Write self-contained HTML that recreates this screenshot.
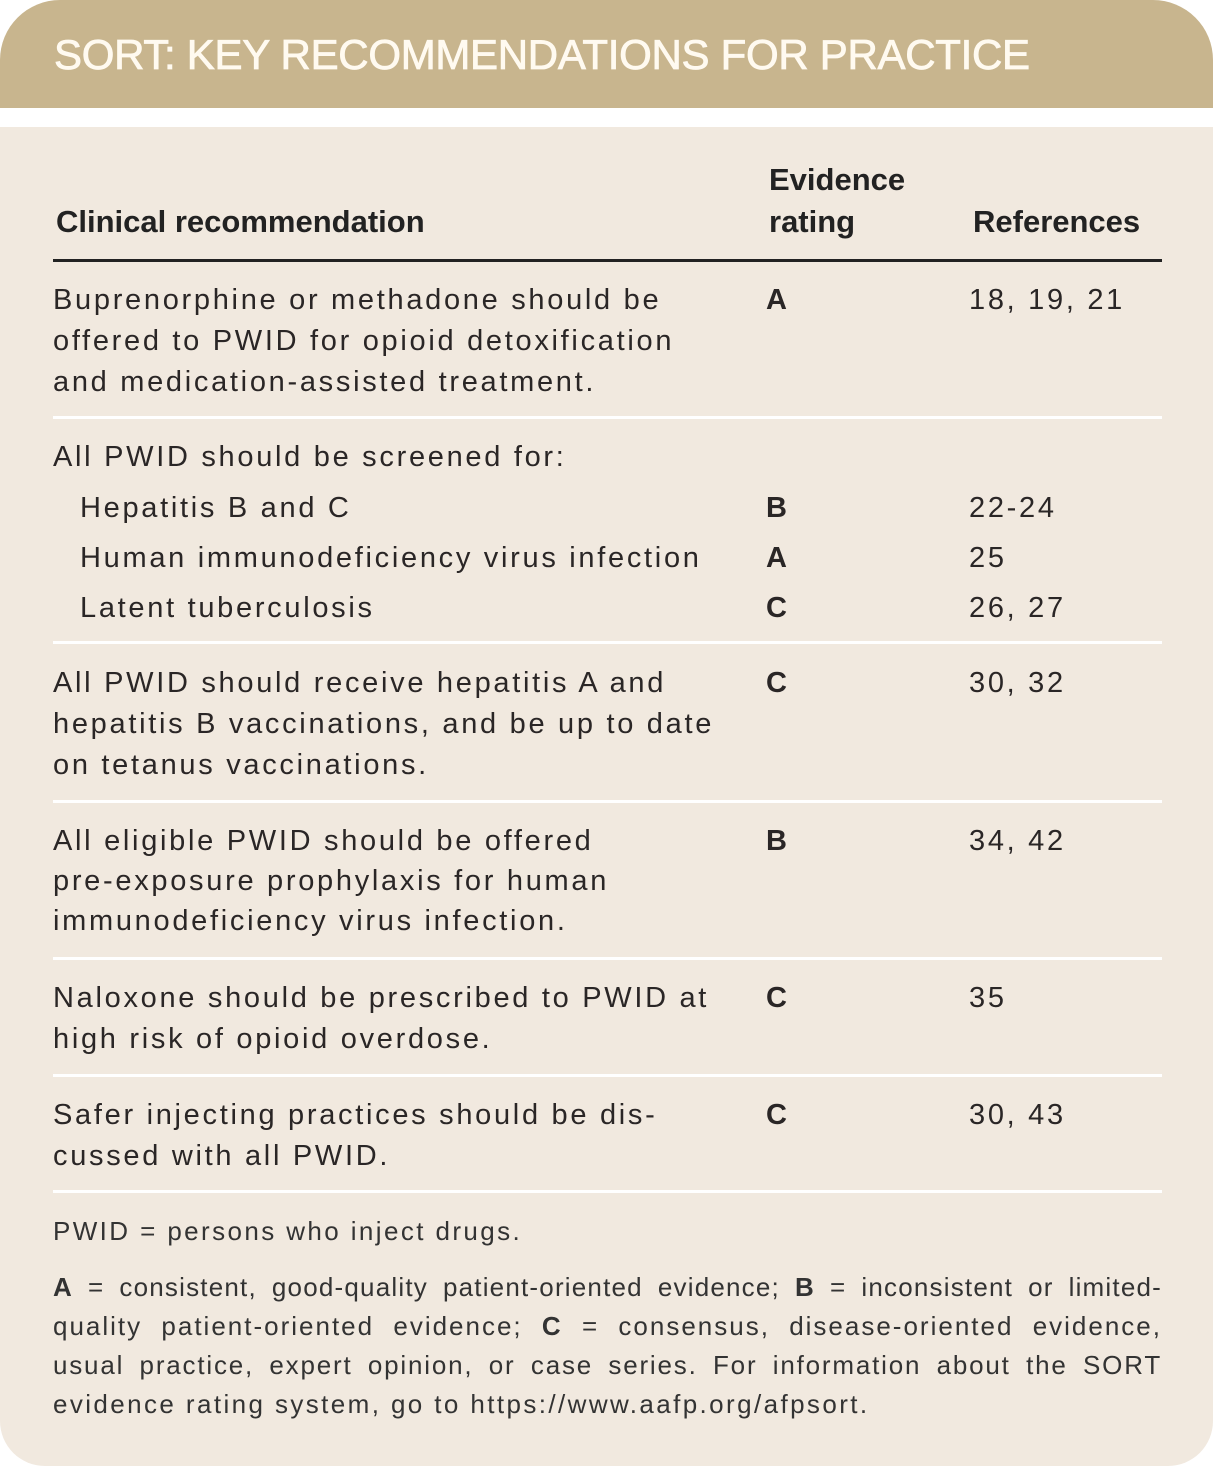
<!DOCTYPE html>
<html><head><meta charset="utf-8"><style>
html,body{margin:0;padding:0;background:#fff;}
body{width:1215px;height:1468px;position:relative;overflow:hidden;font-family:"Liberation Sans",sans-serif;color:#2a2626;}
.hd{position:absolute;left:0;top:0;width:1213px;height:108px;background:#c8b58e;border-top-left-radius:60px;border-top-right-radius:60px;}
.ht{position:absolute;left:54px;top:31px;font-size:42px;color:#fffaf0;letter-spacing:-0.3px;white-space:nowrap;-webkit-text-stroke:0.8px #fffaf0;}
.bd{position:absolute;left:0;top:127px;width:1213px;height:1339px;background:#f1e9df;border-bottom-left-radius:45px;border-bottom-right-radius:45px;}
.t{position:absolute;white-space:nowrap;font-size:29px;letter-spacing:2.7px;line-height:41px;}
.b{font-weight:bold;}
.h{position:absolute;white-space:nowrap;font-family:"Liberation Sans Narrow","Liberation Sans",sans-serif;font-weight:bold;font-size:31px;line-height:42px;color:#222;}
.sep{position:absolute;left:53px;width:1109px;height:3px;background:#fff;}
.n{position:absolute;left:53px;width:1109px;font-size:26px;letter-spacing:2.4px;line-height:39px;color:#333;white-space:nowrap;}
.j{text-align:justify;text-align-last:justify;white-space:normal;}
</style></head><body>
<div class="hd"></div>
<div class="ht">SORT: KEY RECOMMENDATIONS FOR PRACTICE</div>
<div class="bd"></div>

<div class="h" style="left:56px;top:201px">Clinical recommendation</div>
<div class="h" style="left:769px;top:159px">Evidence<br>rating</div>
<div class="h" style="left:973px;top:201px">References</div>
<div style="position:absolute;left:53px;top:259px;width:1109px;height:3px;background:#222"></div>

<div class="t" style="left:53px;top:280px">Buprenorphine or methadone should be<br>offered to PWID for opioid detoxification<br>and medication-assisted treatment.</div>
<div class="t b" style="left:766px;top:280px">A</div>
<div class="t" style="left:969px;top:280px">18, 19, 21</div>
<div class="sep" style="top:416px"></div>

<div class="t" style="left:53px;top:437px">All PWID should be screened for:</div>
<div class="t" style="left:80px;top:488px">Hepatitis B and C</div>
<div class="t b" style="left:766px;top:488px">B</div>
<div class="t" style="left:969px;top:488px">22-24</div>
<div class="t" style="left:80px;top:538px">Human immunodeficiency virus infection</div>
<div class="t b" style="left:766px;top:538px">A</div>
<div class="t" style="left:969px;top:538px">25</div>
<div class="t" style="left:80px;top:588px">Latent tuberculosis</div>
<div class="t b" style="left:766px;top:588px">C</div>
<div class="t" style="left:969px;top:588px">26, 27</div>
<div class="sep" style="top:641px"></div>

<div class="t" style="left:53px;top:663px">All PWID should receive hepatitis A and<br>hepatitis B vaccinations, and be up to date<br>on tetanus vaccinations.</div>
<div class="t b" style="left:766px;top:663px">C</div>
<div class="t" style="left:969px;top:663px">30, 32</div>
<div class="sep" style="top:800px"></div>

<div class="t" style="left:53px;top:821px;line-height:40px">All eligible PWID should be offered<br>pre-exposure prophylaxis for human<br>immunodeficiency virus infection.</div>
<div class="t b" style="left:766px;top:821px">B</div>
<div class="t" style="left:969px;top:821px">34, 42</div>
<div class="sep" style="top:957px"></div>

<div class="t" style="left:53px;top:978px">Naloxone should be prescribed to PWID at<br>high risk of opioid overdose.</div>
<div class="t b" style="left:766px;top:978px">C</div>
<div class="t" style="left:969px;top:978px">35</div>
<div class="sep" style="top:1074px"></div>

<div class="t" style="left:53px;top:1095px">Safer injecting practices should be dis-<br>cussed with all PWID.</div>
<div class="t b" style="left:766px;top:1095px">C</div>
<div class="t" style="left:969px;top:1095px">30, 43</div>
<div class="sep" style="top:1190px"></div>

<div class="n" style="top:1212px">PWID = persons who inject drugs.</div>
<div class="n j" style="top:1268px;height:39px;overflow:hidden;letter-spacing:1.2px"><b>A</b> = consistent, good-quality patient-oriented evidence; <b>B</b> = inconsistent or limited-</div>
<div class="n j" style="top:1307px;height:39px;overflow:hidden;letter-spacing:2px">quality patient-oriented evidence; <b>C</b> = consensus, disease-oriented evidence,</div>
<div class="n j" style="top:1346px;height:39px;overflow:hidden;letter-spacing:1.8px">usual practice, expert opinion, or case series. For information about the SORT</div>
<div class="n" style="top:1385px">evidence rating system, go to https://www.aafp.org/afpsort.</div>
</body></html>
